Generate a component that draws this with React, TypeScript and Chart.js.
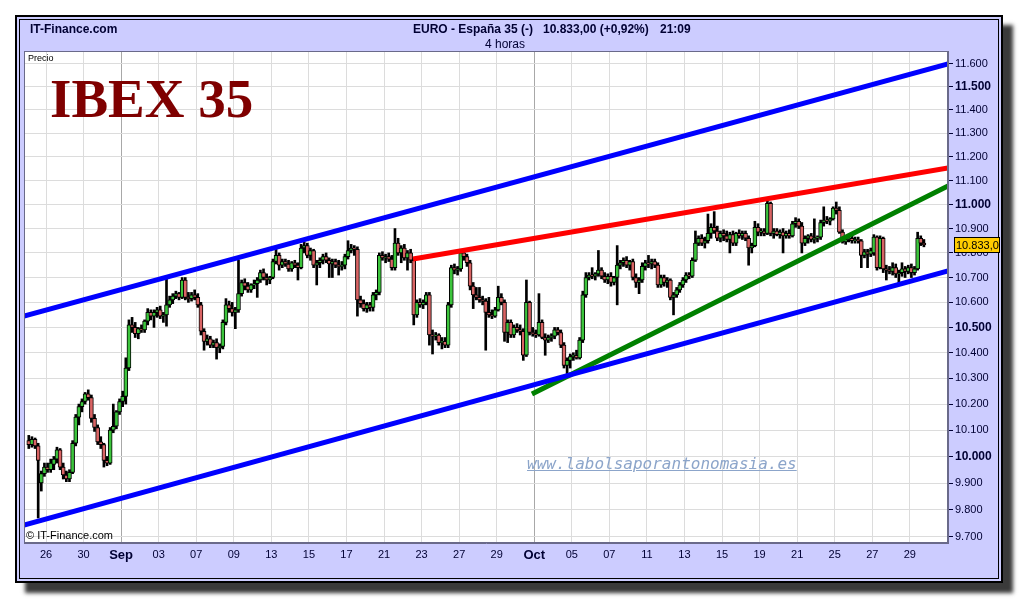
import React, { useEffect, useRef } from 'react';
import { Chart, registerables } from 'chart.js';

Chart.register(...registerables);

// ---- data ----
const BARS_PER_DAY = 6;
const tickDays = [1, 3, 5, 7, 9, 11, 13, 15, 17, 19, 21, 23, 25, 27, 29, 31, 33, 35, 37, 39, 41, 43, 45, 47];
const tickLabels = ['26', '30', 'Sep', '03', '07', '09', '13', '15', '17', '21', '23', '27', '29', 'Oct', '05', '07', '11', '13', '15', '19', '21', '25', '27', '29'];
const monthLabels = ['Sep', 'Oct'];
const priceTicks = [9700, 9800, 9900, 10000, 10100, 10200, 10300, 10400, 10500, 10600, 10700, 10800, 10900, 11000, 11100, 11200, 11300, 11400, 11500, 11600];
const boldPrices = [10000, 10500, 11000, 11500];
const lastPrice = 10833;
const lastPriceLabel = '10.833,0';

// [open, high, low, close] 4-hour bars
const candles: number[][] = [
  // Aug 25
  [10060, 10080, 10030, 10045], [10045, 10075, 10035, 10065], [10065, 10070, 10030, 10040], [10040, 10050, 9770, 9985], [9900, 9945, 9870, 9935], [9935, 9975, 9925, 9960],
  // Aug 26
  [9960, 9975, 9940, 9950], [9950, 9990, 9940, 9975], [9970, 10000, 9950, 9990], [9990, 10035, 9975, 10025], [10025, 10030, 9950, 9960], [9960, 9975, 9915, 9930],
  // Aug 27
  [9930, 9945, 9905, 9915], [9915, 9950, 9905, 9940], [9940, 10060, 9935, 10050], [10050, 10160, 10040, 10150], [10150, 10200, 10120, 10190], [10190, 10220, 10170, 10210],
  // Aug 30
  [10210, 10245, 10200, 10240], [10240, 10255, 10215, 10225], [10225, 10235, 10130, 10145], [10145, 10160, 10095, 10110], [10110, 10120, 10045, 10055], [10055, 10075, 10030, 10045],
  // Aug 31
  [10045, 10050, 9960, 9985], [9985, 10000, 9965, 9975], [9975, 10110, 9970, 10100], [10100, 10200, 10090, 10115], [10115, 10175, 10105, 10170], [10170, 10220, 10160, 10210],
  // Sep 1
  [10210, 10250, 10190, 10230], [10230, 10380, 10200, 10340], [10340, 10530, 10330, 10510], [10510, 10540, 10480, 10500], [10500, 10520, 10460, 10475], [10475, 10500, 10455, 10495],
  // Sep 2
  [10495, 10510, 10480, 10490], [10490, 10530, 10480, 10525], [10525, 10575, 10510, 10560], [10560, 10570, 10530, 10545], [10545, 10570, 10500, 10560], [10560, 10580, 10540, 10570],
  // Sep 3
  [10570, 10585, 10535, 10545], [10545, 10560, 10520, 10550], [10550, 10700, 10505, 10590], [10590, 10625, 10580, 10610], [10610, 10635, 10595, 10625], [10625, 10645, 10615, 10635],
  // Sep 6
  [10635, 10640, 10610, 10620], [10620, 10700, 10615, 10690], [10690, 10700, 10610, 10620], [10620, 10640, 10600, 10615], [10615, 10640, 10605, 10630], [10630, 10650, 10610, 10620],
  // Sep 7
  [10620, 10635, 10580, 10590], [10590, 10600, 10470, 10485], [10485, 10495, 10410, 10445], [10445, 10470, 10430, 10455], [10455, 10465, 10420, 10430], [10430, 10450, 10420, 10440],
  // Sep 8
  [10440, 10455, 10375, 10420], [10420, 10435, 10400, 10425], [10425, 10530, 10415, 10520], [10520, 10615, 10510, 10590], [10590, 10605, 10560, 10575], [10575, 10600, 10545, 10560],
  // Sep 9
  [10560, 10580, 10495, 10570], [10570, 10770, 10560, 10635], [10635, 10690, 10625, 10680], [10680, 10695, 10650, 10665], [10665, 10680, 10640, 10650], [10650, 10675, 10640, 10670],
  // Sep 10
  [10670, 10690, 10655, 10675], [10675, 10700, 10620, 10690], [10690, 10730, 10680, 10720], [10720, 10735, 10690, 10700], [10700, 10715, 10670, 10690], [10690, 10705, 10675, 10700],
  // Sep 13
  [10700, 10775, 10695, 10765], [10765, 10825, 10755, 10790], [10790, 10800, 10730, 10750], [10750, 10775, 10740, 10765], [10765, 10775, 10745, 10755], [10755, 10770, 10725, 10735],
  // Sep 14
  [10735, 10765, 10725, 10760], [10760, 10770, 10740, 10750], [10750, 10760, 10690, 10740], [10740, 10835, 10735, 10820], [10820, 10845, 10800, 10830], [10830, 10840, 10780, 10790],
  // Sep 15
  [10790, 10820, 10770, 10810], [10810, 10815, 10740, 10750], [10750, 10770, 10670, 10760], [10760, 10780, 10740, 10770], [10770, 10795, 10755, 10785], [10785, 10800, 10760, 10770],
  // Sep 16
  [10770, 10780, 10700, 10755], [10755, 10775, 10700, 10765], [10765, 10775, 10740, 10750], [10750, 10770, 10710, 10745], [10745, 10765, 10730, 10750], [10750, 10795, 10735, 10785],
  // Sep 17
  [10785, 10850, 10775, 10810], [10810, 10835, 10800, 10820], [10820, 10830, 10790, 10815], [10815, 10825, 10545, 10610], [10610, 10625, 10580, 10595], [10595, 10610, 10565, 10575],
  // Sep 20
  [10575, 10600, 10560, 10590], [10590, 10600, 10565, 10580], [10580, 10640, 10565, 10630], [10630, 10650, 10610, 10640], [10640, 10800, 10630, 10790], [10790, 10805, 10770, 10780],
  // Sep 21
  [10780, 10795, 10760, 10785], [10785, 10800, 10765, 10775], [10775, 10790, 10730, 10740], [10740, 10900, 10730, 10840], [10840, 10860, 10790, 10800], [10800, 10830, 10760, 10820],
  // Sep 22
  [10820, 10835, 10770, 10780], [10780, 10810, 10730, 10800], [10800, 10815, 10760, 10770], [10770, 10780, 10510, 10550], [10550, 10610, 10540, 10600], [10600, 10615, 10580, 10590],
  // Sep 23
  [10590, 10610, 10575, 10600], [10600, 10640, 10590, 10630], [10630, 10640, 10430, 10470], [10470, 10490, 10395, 10465], [10465, 10480, 10450, 10470], [10470, 10475, 10430, 10440],
  // Sep 24
  [10440, 10460, 10415, 10445], [10445, 10460, 10420, 10430], [10430, 10600, 10420, 10590], [10590, 10750, 10580, 10740], [10740, 10755, 10715, 10730], [10730, 10745, 10710, 10735],
  // Sep 27
  [10735, 10815, 10725, 10800], [10800, 10815, 10770, 10785], [10785, 10795, 10745, 10760], [10760, 10770, 10650, 10665], [10665, 10680, 10575, 10630], [10630, 10660, 10610, 10620],
  // Sep 28
  [10620, 10660, 10600, 10610], [10610, 10625, 10590, 10605], [10605, 10615, 10410, 10560], [10560, 10620, 10540, 10550], [10550, 10570, 10535, 10545], [10545, 10580, 10540, 10570],
  // Sep 29
  [10570, 10665, 10565, 10620], [10620, 10635, 10590, 10600], [10600, 10610, 10445, 10480], [10480, 10530, 10440, 10520], [10520, 10530, 10460, 10470], [10470, 10510, 10460, 10500],
  // Sep 30
  [10500, 10515, 10480, 10490], [10490, 10510, 10470, 10485], [10485, 10495, 10370, 10390], [10390, 10690, 10385, 10600], [10600, 10605, 10470, 10480], [10480, 10500, 10465, 10475],
  // Oct 1
  [10475, 10490, 10460, 10470], [10470, 10635, 10465, 10520], [10520, 10530, 10455, 10460], [10460, 10475, 10390, 10450], [10450, 10470, 10440, 10460], [10460, 10475, 10445, 10465],
  // Oct 4
  [10465, 10500, 10455, 10490], [10490, 10500, 10470, 10480], [10480, 10490, 10420, 10430], [10430, 10440, 10340, 10350], [10350, 10380, 10310, 10370], [10370, 10395, 10340, 10385],
  // Oct 5
  [10385, 10400, 10370, 10390], [10390, 10410, 10375, 10380], [10380, 10460, 10375, 10450], [10450, 10645, 10440, 10630], [10630, 10720, 10620, 10700], [10700, 10720, 10690, 10710],
  // Oct 6
  [10710, 10740, 10695, 10705], [10705, 10720, 10690, 10715], [10715, 10810, 10705, 10730], [10730, 10740, 10695, 10705], [10705, 10720, 10680, 10690], [10690, 10715, 10675, 10705],
  // Oct 7
  [10705, 10720, 10665, 10680], [10680, 10705, 10670, 10700], [10700, 10830, 10590, 10750], [10750, 10770, 10735, 10760], [10760, 10780, 10745, 10770], [10770, 10785, 10740, 10750],
  // Oct 8
  [10750, 10770, 10730, 10765], [10765, 10775, 10690, 10700], [10700, 10715, 10660, 10680], [10680, 10700, 10635, 10690], [10690, 10760, 10680, 10745], [10745, 10770, 10730, 10760],
  // Oct 11
  [10760, 10790, 10740, 10755], [10755, 10775, 10735, 10765], [10765, 10775, 10740, 10750], [10750, 10760, 10660, 10670], [10670, 10710, 10660, 10700], [10700, 10710, 10665, 10680],
  // Oct 12
  [10680, 10700, 10660, 10690], [10690, 10695, 10610, 10620], [10620, 10640, 10550, 10630], [10630, 10660, 10620, 10650], [10650, 10680, 10640, 10670], [10670, 10700, 10660, 10690],
  // Oct 13
  [10690, 10720, 10680, 10710], [10710, 10720, 10695, 10705], [10705, 10780, 10700, 10770], [10770, 10890, 10765, 10840], [10840, 10870, 10830, 10860], [10860, 10875, 10830, 10840],
  // Oct 14
  [10840, 10865, 10820, 10850], [10850, 10960, 10840, 10880], [10880, 10920, 10860, 10905], [10905, 10970, 10880, 10890], [10890, 10910, 10850, 10860], [10860, 10890, 10845, 10880],
  // Oct 15
  [10880, 10895, 10850, 10870], [10870, 10890, 10845, 10855], [10855, 10885, 10800, 10875], [10875, 10890, 10830, 10840], [10840, 10885, 10830, 10880], [10880, 10895, 10860, 10870],
  // Oct 18
  [10870, 10890, 10855, 10880], [10880, 10890, 10850, 10860], [10860, 10870, 10750, 10820], [10820, 10840, 10800, 10830], [10830, 10930, 10825, 10905], [10905, 10920, 10870, 10885],
  // Oct 19
  [10885, 10900, 10870, 10890], [10890, 10900, 10870, 10880], [10880, 11020, 10875, 11005], [11005, 11010, 10870, 10880], [10880, 10900, 10860, 10890], [10890, 10900, 10870, 10875],
  // Oct 20
  [10875, 10895, 10860, 10885], [10885, 10900, 10800, 10870], [10870, 10890, 10860, 10880], [10880, 10895, 10860, 10870], [10870, 10930, 10865, 10920], [10920, 10945, 10905, 10930],
  // Oct 21
  [10930, 10940, 10900, 10910], [10910, 10925, 10800, 10840], [10840, 10870, 10830, 10860], [10860, 10875, 10840, 10870], [10870, 10880, 10845, 10855], [10855, 10940, 10840, 10860],
  // Oct 22
  [10860, 10870, 10845, 10865], [10865, 10935, 10855, 10925], [10925, 10990, 10910, 10935], [10935, 10950, 10920, 10930], [10930, 10945, 10915, 10940], [10940, 10990, 10935, 10985],
  // Oct 25
  [10985, 11010, 10960, 10975], [10975, 10990, 10880, 10885], [10885, 10895, 10840, 10845], [10845, 10865, 10835, 10855], [10855, 10870, 10845, 10860], [10860, 10870, 10840, 10850],
  // Oct 26
  [10850, 10865, 10840, 10855], [10855, 10865, 10840, 10850], [10850, 10855, 10740, 10790], [10790, 10815, 10780, 10805], [10805, 10815, 10740, 10795], [10795, 10820, 10785, 10810],
  // Oct 27
  [10800, 10875, 10790, 10865], [10865, 10870, 10730, 10740], [10740, 10870, 10735, 10860], [10860, 10865, 10720, 10735], [10735, 10750, 10690, 10730], [10730, 10745, 10715, 10725],
  // Oct 28
  [10725, 10760, 10710, 10740], [10740, 10755, 10700, 10715], [10715, 10730, 10670, 10720], [10720, 10760, 10705, 10735], [10735, 10745, 10700, 10725], [10725, 10750, 10715, 10740],
  // Oct 29
  [10740, 10755, 10700, 10720], [10720, 10745, 10710, 10735], [10735, 10885, 10730, 10860], [10860, 10870, 10830, 10840], [10840, 10855, 10825, 10833],
];

// trend lines: {x: bar index, y: price}
const upperChannel = [{ x: -1.53, y: 10545 }, { x: 293.7, y: 11600 }];
const lowerChannel = [{ x: -1.53, y: 9744 }, { x: 293.7, y: 10727 }];
const resistanceLine = [{ x: 122.76, y: 10775 }, { x: 293.7, y: 11153 }];
const supportLine = [{ x: 160.77, y: 10239 }, { x: 293.7, y: 11077 }];

const X_MIN = -1.53;
const X_MAX = 293.7;
const Y_MIN = 9678;
const Y_MAX = 11657;

// ---- helpers ----
const fmtThousands = (v: number) => String(Math.round(v)).replace(/\B(?=(\d{3})+(?!\d))/g, '.');
const tickPos = tickDays.map((d) => d * BARS_PER_DAY - 0.5);
const labelAt = (v: number) => {
  const i = tickPos.findIndex((p) => Math.abs(p - v) < 0.01);
  return i >= 0 ? tickLabels[i] : '';
};

const GREEN = '#3CC43C';
const RED = '#D96464';
const NAVY = '#000033';
const NARROW = "'Liberation Sans Narrow', 'Liberation Sans', Arial, sans-serif";
const SANS = "'Liberation Sans', Arial, sans-serif";

const plotPlugin = {
  id: 'plotDecor',
  beforeDraw(chart: any) {
    const { ctx, chartArea } = chart;
    const { left, top, right, bottom } = chartArea;
    ctx.save();
    ctx.fillStyle = '#FFFFFF';
    ctx.fillRect(left, top, right - left, bottom - top);
    ctx.restore();
  },
  afterDraw(chart: any) {
    const { ctx, chartArea } = chart;
    const { left, top, right, bottom } = chartArea;
    ctx.save();
    ctx.strokeStyle = '#6A6A8A';
    ctx.lineWidth = 1;
    ctx.strokeRect(left + 0.5, top + 0.5, right - left - 1, bottom - top - 1);
    // last price box
    const y = chart.scales.y.getPixelForValue(lastPrice);
    const bx = right + 6;
    const bw = 45;
    const bh = 15;
    ctx.fillStyle = '#FFCC00';
    ctx.fillRect(bx + 0.5, Math.round(y - bh / 2) + 0.5, bw, bh);
    ctx.strokeStyle = '#000000';
    ctx.strokeRect(bx + 0.5, Math.round(y - bh / 2) + 0.5, bw, bh);
    ctx.fillStyle = '#000000';
    ctx.font = `11px ${SANS}`;
    ctx.textBaseline = 'middle';
    ctx.textAlign = 'left';
    ctx.fillText(lastPriceLabel, bx + 2, Math.round(y) + 1);
    ctx.restore();
  },
};

export default function App() {
  const canvasRef = useRef<HTMLCanvasElement>(null);

  useEffect(() => {
    const wicks = candles.map((c, i) => ({ x: i, y: [c[2], c[1]] }));
    const bodies = candles.map((c, i) => ({ x: i, y: [c[0], c[3]] }));
    const bodyColors = candles.map((c) => (c[3] >= c[0] ? GREEN : RED));

    const lineDs = (data: any[], color: string) => ({
      type: 'line' as const,
      data,
      borderColor: color,
      backgroundColor: color,
      borderWidth: 5,
      pointRadius: 0,
      fill: false,
      tension: 0,
      clip: 0,
      order: 1,
    });

    const chart = new Chart(canvasRef.current as HTMLCanvasElement, {
      type: 'bar',
      data: {
        datasets: [
          {
            type: 'bar',
            data: wicks as any,
            backgroundColor: '#000000',
            borderWidth: 0,
            barThickness: 2,
            grouped: false,
            order: 3,
          } as any,
          {
            type: 'bar',
            data: bodies as any,
            backgroundColor: bodyColors,
            borderColor: '#000000',
            borderWidth: 1,
            borderSkipped: false,
            barThickness: 4,
            grouped: false,
            order: 2,
          } as any,
          lineDs(upperChannel, '#0000FF') as any,
          lineDs(lowerChannel, '#0000FF') as any,
          lineDs(resistanceLine, '#FF0000') as any,
          lineDs(supportLine, '#008000') as any,
        ],
      },
      options: {
        responsive: false,
        animation: false,
        devicePixelRatio: 1,
        events: [],
        layout: { padding: { left: 24, top: 51, right: 0, bottom: 0 } },
        plugins: { legend: { display: false }, tooltip: { enabled: false }, title: { display: false } },
        scales: {
          x: {
            type: 'linear',
            offset: false,
            min: X_MIN,
            max: X_MAX,
            afterBuildTicks: (scale: any) => {
              scale.ticks = tickPos.map((v) => ({ value: v }));
            },
            afterFit: (scale: any) => {
              scale.height = 57;
            },
            ticks: {
              autoSkip: false,
              maxRotation: 0,
              minRotation: 0,
              padding: 5,
              color: NAVY,
              callback: (v: any) => labelAt(Number(v)),
              font: (ctx: any) => {
                const lab = ctx.tick ? labelAt(ctx.tick.value) : '';
                return monthLabels.includes(lab)
                  ? { family: NARROW, size: 13, weight: 'bold' }
                  : { family: NARROW, size: 11, weight: 'normal' };
              },
            },
            grid: {
              offset: false,
              drawTicks: false,
              lineWidth: 1,
              color: (ctx: any) => {
                const lab = ctx.tick ? labelAt(ctx.tick.value) : '';
                return monthLabels.includes(lab) ? '#A8A8A8' : '#DCDCDC';
              },
            },
            border: { display: true, color: '#6A6A8A' },
          } as any,
          y: {
            type: 'logarithmic',
            position: 'right',
            min: Y_MIN,
            max: Y_MAX,
            afterBuildTicks: (scale: any) => {
              scale.ticks = priceTicks.map((v) => ({ value: v }));
            },
            afterFit: (scale: any) => {
              scale.width = 72;
            },
            ticks: {
              autoSkip: false,
              padding: 2,
              color: NAVY,
              callback: (v: any) => fmtThousands(Number(v)),
              font: (ctx: any) => {
                const v = ctx.tick ? ctx.tick.value : 0;
                return boldPrices.includes(v)
                  ? { family: SANS, size: 12, weight: 'bold' }
                  : { family: SANS, size: 11, weight: 'normal' };
              },
            },
            grid: {
              color: '#DCDCDC',
              tickColor: NAVY,
              tickLength: 5,
              lineWidth: 1,
            },
            border: { display: true, color: '#6A6A8A' },
          } as any,
        },
      },
      plugins: [plotPlugin],
    } as any);

    return () => chart.destroy();
  }, []);

  const abs = (s: React.CSSProperties): React.CSSProperties => ({ position: 'absolute', margin: 0, whiteSpace: 'pre', ...s });

  return (
    <div style={{ position: 'absolute', left: 0, top: 0, width: 1020, height: 600, background: '#FFFFFF', overflow: 'hidden' }}>
      {/* frame with shadow */}
      <div
        style={abs({
          left: 15,
          top: 15,
          width: 988,
          height: 568,
          boxSizing: 'border-box',
          background: '#CCCCFF',
          border: '2px solid #000000',
          boxShadow: '10px 10px 4px #3A3A3A',
        })}
      />
      <div style={abs({ left: 19, top: 19, width: 980, height: 560, boxSizing: 'border-box', border: '1px solid #000000' })} />
      <canvas ref={canvasRef} width={1020} height={600} style={{ position: 'absolute', left: 0, top: 0, width: 1020, height: 600 }} />
      {/* header */}
      <div style={abs({ left: 30, top: 22, font: `bold 12px ${NARROW}`, color: NAVY, lineHeight: '14px' })}>IT-Finance.com</div>
      <div style={abs({ left: 413, top: 22, font: `bold 12px ${NARROW}`, color: NAVY, lineHeight: '14px' })}>EURO - España 35 (-)</div>
      <div style={abs({ left: 543, top: 22, font: `bold 12px ${NARROW}`, color: NAVY, lineHeight: '14px' })}>10.833,00 (+0,92%)</div>
      <div style={abs({ left: 660, top: 22, font: `bold 12px ${NARROW}`, color: NAVY, lineHeight: '14px' })}>21:09</div>
      <div style={abs({ left: 485, top: 37, font: `12px ${NARROW}`, color: NAVY, lineHeight: '14px' })}>4 horas</div>
      {/* in-plot texts */}
      <div style={abs({ left: 28, top: 53, font: `9px ${SANS}`, color: '#000000', lineHeight: '10px' })}>Precio</div>
      <div style={abs({ left: 50, top: 71, font: `bold 55px 'Liberation Serif', 'Times New Roman', serif`, color: '#7F0000', lineHeight: '55px' })}>IBEX 35</div>
      <div
        style={abs({
          left: 527,
          top: 456,
          font: `oblique 16px 'DejaVu Sans Mono', monospace`,
          color: '#8CA5CA',
          lineHeight: '16px',
          textDecoration: 'underline',
        })}
      >
        www.labolsaporantonomasia.es
      </div>
      <div style={abs({ left: 26, top: 529, font: `11px ${NARROW}`, color: '#000000', lineHeight: '12px' })}>© IT-Finance.com</div>
    </div>
  );
}
